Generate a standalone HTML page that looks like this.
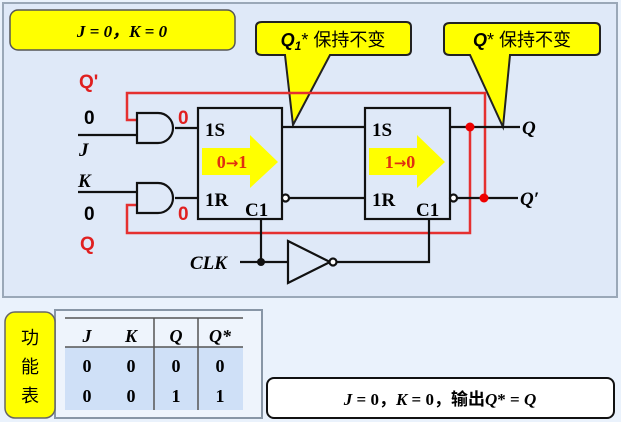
<!DOCTYPE html><html><head><meta charset="utf-8"><style>body{margin:0;background:#eaf2fc}svg{display:block}</style></head><body>
<svg width="621" height="422" viewBox="0 0 621 422" xmlns="http://www.w3.org/2000/svg" font-family="Liberation Serif, serif">
<rect width="621" height="422" fill="#eaf2fc"/>
<rect x="3" y="3" width="614" height="294" fill="#dfe9f8" stroke="#9aa8b8" stroke-width="2"/>
<rect x="10" y="10" width="225" height="40" rx="8" fill="#ffff00" stroke="#555" stroke-width="1.5"/>
<text x="122" y="37" text-anchor="middle" font-size="17" font-style="italic" font-weight="bold">J = 0，K = 0</text>
<path d="M262,22 H406 Q411,22 411,27 V50 Q411,55 406,55 H330 L293,125 L285,55 H262 Q256,55 256,50 V27 Q256,22 262,22 Z" fill="#ffff00" stroke="#222" stroke-width="2"/>
<text x="333" y="46" text-anchor="middle" font-size="18" font-family="Liberation Sans, Noto Sans CJK SC, sans-serif"><tspan font-weight="bold" font-style="italic">Q</tspan><tspan font-size="12" dy="4" font-weight="bold" font-style="italic">1</tspan><tspan dy="-4">* 保持不变</tspan></text>
<path d="M450,23 H595 Q600,23 600,28 V50 Q600,55 595,55 H510 L503,127 L470,55 H450 Q444,55 444,50 V28 Q444,23 450,23 Z" fill="#ffff00" stroke="#222" stroke-width="2"/>
<text x="522" y="46" text-anchor="middle" font-size="18" font-family="Liberation Sans, Noto Sans CJK SC, sans-serif"><tspan font-weight="bold" font-style="italic">Q</tspan>* 保持不变</text>
<g stroke="#e53030" stroke-width="2.5" fill="none">
<path d="M137,120 H127 V93 H485 V198"/>
<path d="M137,205 H127 V233 H470 V127"/>
</g>
<g stroke="#111" stroke-width="2.2" fill="none">
<path d="M78,135 H137"/><path d="M78,192 H137"/>
<path d="M175,128 H198"/><path d="M175,198 H198"/>
<path d="M282,127 H365"/><path d="M289,198 H365"/>
<path d="M450,127 H520"/><path d="M457,198 H518"/>
<path d="M261,219 V262"/><path d="M240,262 H288"/>
<path d="M336,262 H429 V219"/>
<path d="M137,113 H158 A15,15 0 0 1 158,143 H137 Z" fill="#dfe9f8"/>
<path d="M137,183 H158 A15,15 0 0 1 158,213 H137 Z" fill="#dfe9f8"/>
<path d="M288,241 L330,262 L288,283 Z" fill="#dfe9f8"/>
<circle cx="333" cy="262" r="3.5" fill="#fff"/>
<rect x="198" y="108" width="84" height="111" fill="#dfe9f8"/>
<rect x="365" y="108" width="85" height="111" fill="#dfe9f8"/>
<circle cx="285.5" cy="198" r="3.5" fill="#fff"/>
<circle cx="453.5" cy="198" r="3.5" fill="#fff"/>
</g>
<circle cx="261" cy="262" r="4" fill="#111"/>
<circle cx="470" cy="127" r="4.5" fill="#e00"/>
<circle cx="484" cy="198" r="4.5" fill="#e00"/>
<path d="M202,148 H250 V135 L278,162 L250,188 V175 H202 Z" fill="#ffff00"/>
<text x="232" y="168" text-anchor="middle" font-size="18" font-weight="bold" fill="#e03010">0<tspan font-family="DejaVu Sans, sans-serif" font-size="15">→</tspan>1</text>
<path d="M369,148 H417 V135 L445,162 L417,188 V175 H369 Z" fill="#ffff00"/>
<text x="400" y="168" text-anchor="middle" font-size="18" font-weight="bold" fill="#e03010">1<tspan font-family="DejaVu Sans, sans-serif" font-size="15">→</tspan>0</text>
<g font-size="19" font-weight="bold">
<text x="205" y="136">1S</text><text x="205" y="206">1R</text><text x="245" y="216">C1</text>
<text x="372" y="136">1S</text><text x="372" y="206">1R</text><text x="416" y="216">C1</text>
</g>
<g font-size="19" font-weight="bold" font-style="italic">
<text x="522" y="134">Q</text><text x="520" y="205">Q′</text>
<text x="79" y="156">J</text><text x="78" y="187">K</text>
<text x="190" y="269">CLK</text>
</g>
<g font-family="Liberation Sans, sans-serif" font-weight="bold" font-size="19">
<text x="79" y="88" fill="#e02020">Q'</text>
<text x="84" y="124">0</text><text x="84" y="220">0</text>
<text x="80" y="250" fill="#e02020">Q</text>
<text x="178" y="124" fill="#e02020">0</text><text x="178" y="220" fill="#e02020">0</text>
</g>
<rect x="55" y="310" width="207" height="108" fill="#eef4fc" stroke="#8896a6" stroke-width="2"/>
<rect x="65" y="347" width="178" height="63" fill="#cfe0f7"/>
<g stroke="#555" stroke-width="1.5"><path d="M65,318 H243"/><path d="M65,347 H243"/><path d="M154,318 V410"/><path d="M198,318 V410"/></g>
<rect x="5" y="312" width="50" height="106" rx="10" fill="#ffff00" stroke="#666" stroke-width="1.5"/>
<g font-family="Noto Sans CJK SC, sans-serif" font-size="18" text-anchor="middle"><text x="30" y="344">功</text><text x="30" y="373">能</text><text x="30" y="402">表</text></g>
<g font-size="18" font-weight="bold" text-anchor="middle">
<g font-style="italic"><text x="87" y="342">J</text><text x="131" y="342">K</text><text x="176" y="342">Q</text><text x="220" y="342">Q*</text></g>
<text x="87" y="372">0</text><text x="131" y="372">0</text><text x="176" y="372">0</text><text x="220" y="372">0</text>
<text x="87" y="402">0</text><text x="131" y="402">0</text><text x="176" y="402">1</text><text x="220" y="402">1</text>
</g>
<rect x="267" y="378" width="347" height="40" rx="7" fill="#fff" stroke="#111" stroke-width="2"/>
<text x="440" y="405" text-anchor="middle" font-size="17" font-weight="bold" font-family="Liberation Serif, Noto Sans CJK SC, serif"><tspan font-style="italic">J</tspan> = 0，<tspan font-style="italic">K</tspan> = 0，输出<tspan font-style="italic">Q</tspan>* = <tspan font-style="italic">Q</tspan></text>
</svg>
</body></html>
